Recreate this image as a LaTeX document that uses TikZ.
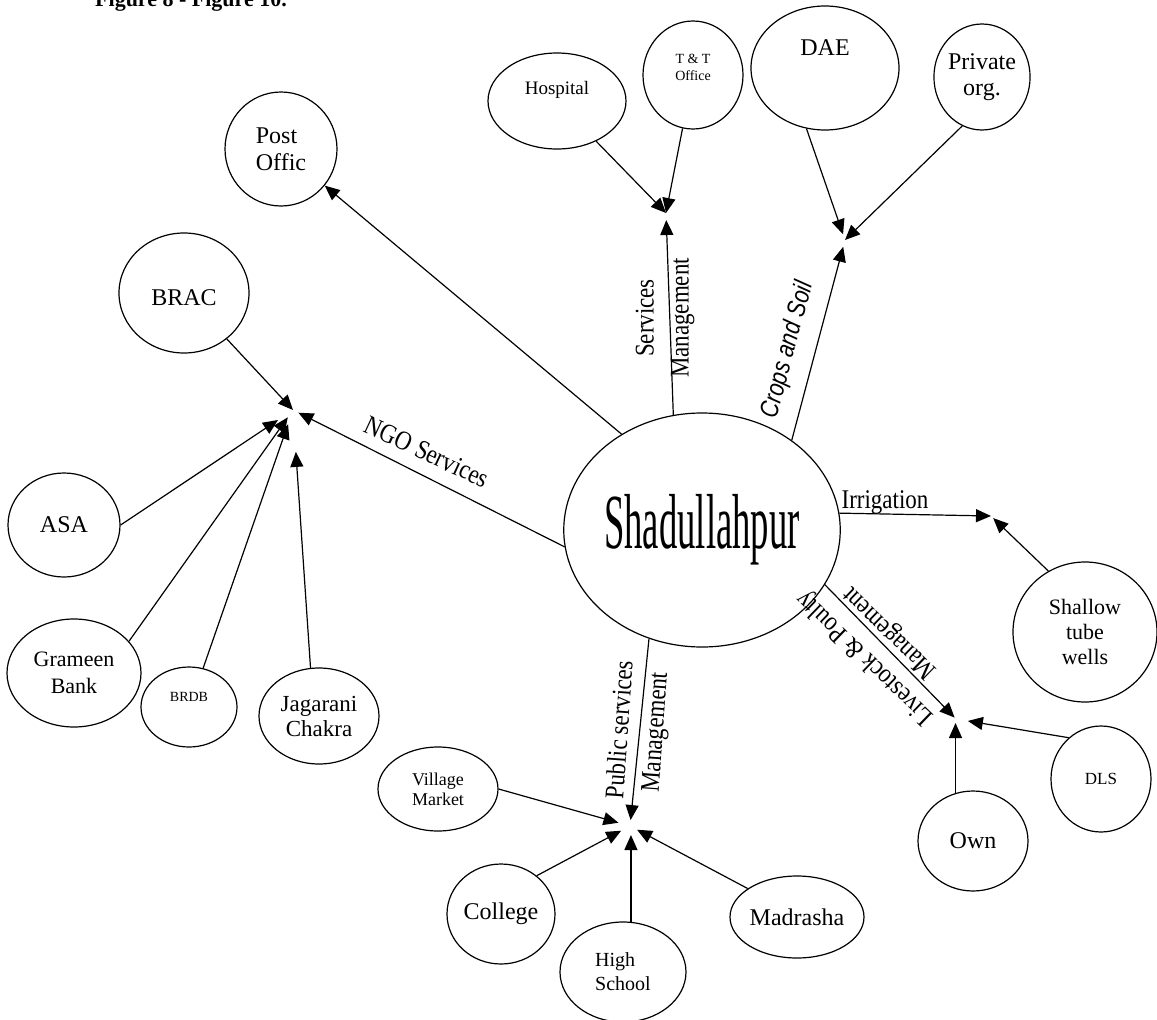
\documentclass[tikz,border=0pt]{standalone}
\usepackage{fontspec}
\setmainfont{Liberation Serif}
\newfontfamily\narrowserif[FakeStretch=0.85]{Liberation Serif}
\newfontfamily\hubfont[FakeStretch=0.47]{Liberation Serif}
\newfontfamily\narrowsans[FakeStretch=0.82]{Liberation Sans}
\usetikzlibrary{shapes,arrows.meta,positioning,calc}

\newcommand{\fsz}[2]{\fontsize{#1}{#2}\selectfont}

\begin{document}
\begin{tikzpicture}[x=1pt,y=-1pt,
  bub/.style={draw, ellipse, line width=1.2pt, inner sep=0pt, align=center},
  arr/.style={line width=1.2pt, -{Triangle[length=15pt,width=13pt]}},
  lbl/.style={font=\narrowserif\fsz{27}{35}, align=center, inner sep=0pt}]

\useasboundingbox (0,0) rectangle (1157,1020);
\node[anchor=base west, font=\bfseries\fsz{22}{26}, inner sep=0pt] (title) at (95,6) {Figure 8 - Figure 10.};

% village in the middle
\node[bub, minimum width=242pt, minimum height=234pt, font=\hubfont\fsz{78}{80}] (shad) at (702,530) {\raisebox{-22pt}{Shadullahpur}};

% outer circles
\node[bub, minimum width=112pt, minimum height=114pt, font=\fsz{24}{27}, align=left] (post) at (281,149) {Post\\Offic};
\node[bub, minimum width=130pt, minimum height=120pt, font=\fsz{24}{27}] (brac) at (184,293) {\raisebox{-26pt}{BRAC}};
\node[bub, minimum width=138pt, minimum height=96pt, font=\fsz{19}{22}] (hosp) at (557,101) {\raisebox{26pt}{Hospital}};
\node[bub, minimum width=100pt, minimum height=108pt, font=\fsz{14}{17}] (tnt) at (693,75) {\raisebox{26pt}{\begin{tabular}{@{}c@{}}T \& T\\Office\end{tabular}}};
\node[bub, minimum width=148pt, minimum height=124pt, font=\fsz{24}{27}] (dae) at (825,68) {\raisebox{40pt}{DAE}};
\node[bub, minimum width=92pt, minimum height=106pt, font=\fsz{24}{26}] (priv) at (982,77) {Private\\org.};
\node[bub, minimum width=144pt, minimum height=140pt, font=\fsz{22}{25}] (tube) at (1085,632) {Shallow\\tube\\wells};
\node[bub, minimum width=100pt, minimum height=106pt, font=\fsz{17}{20}] (dls) at (1101,779) {DLS};
\node[bub, minimum width=110pt, minimum height=100pt, font=\fsz{24}{27}] (own) at (973,841) {Own};
\node[bub, minimum width=112pt, minimum height=104pt, font=\fsz{24}{27}] (asa) at (64,525) {ASA};
\node[bub, minimum width=134pt, minimum height=108pt, font=\fsz{22}{27}] (grameen) at (74,673) {Grameen\\Bank};
\node[bub, minimum width=96pt, minimum height=80pt, font=\fsz{14}{17}] (brdb) at (189,707) {\raisebox{20pt}{BRDB}};
\node[bub, minimum width=120pt, minimum height=96pt, font=\fsz{23}{25}] (jagarani) at (319,716) {Jagarani\\Chakra};
\node[bub, minimum width=120pt, minimum height=84pt, font=\fsz{18}{20}] (market) at (438,789) {Village\\Market};
\node[bub, minimum width=108pt, minimum height=100pt, font=\fsz{24}{27}] (college) at (501,914) {College};
\node[bub, minimum width=126pt, minimum height=100pt, font=\fsz{20}{24}, align=left] (school) at (623,972) {High\\School};
\node[bub, minimum width=134pt, minimum height=82pt, font=\fsz{24}{27}] (madrasha) at (797,917) {Madrasha};

% meeting points of the arrows
\coordinate (ngo) at (293,410);
\coordinate (svc) at (666,213);
\coordinate (crop) at (845,240);
\coordinate (irr) at (991,516);
\coordinate (live) at (956,719);
\coordinate (pub) at (630,826);

% NGO side
\draw[arr] (shad.130) -- (post);
\draw[arr, shorten >=6pt] (shad.187) -- (ngo);
\draw[arr] (brac) -- (ngo);
\draw[arr, shorten >=18pt] (asa.east) -- (ngo);
\draw[arr, shorten >=9pt] (grameen.30) -- (ngo);
\draw[arr, shorten >=15pt] (brdb.70) -- (ngo);
\draw[arr, shorten >=42pt] (jagarani.100) -- (ngo);

% services and crops
\draw[arr] (hosp) -- (svc);
\draw[arr] (tnt) -- (svc);
\draw[arr, shorten >=7pt] (shad.104) -- (svc);
\draw[arr, shorten >=6pt] (dae.253) -- (crop);
\draw[arr] (priv.248) -- (crop);
\draw[arr, shorten >=7pt] (shad.45) -- (crop);

% irrigation and livestock
\draw[arr] (shad.7) -- (irr);
\draw[arr, shorten >=3pt] (tube.121) -- (irr);
\draw[arr, shorten >=2pt] (shad.-24) -- (live);
\draw[arr, shorten >=12pt] (dls.128) -- (live);
\draw[arr, shorten >=4pt] (own.110) -- (own.110 |- live);

% public services
\draw[arr, shorten >=6pt] (shad.244) -- (pub);
\draw[arr, shorten >=12pt] (market.east) -- (pub);
\draw[arr, shorten >=10pt] (college.47) -- (pub);
\draw[arr, shorten >=9pt] (school.81) -- (school.81 |- pub);
\draw[arr, shorten >=8pt] (madrasha.150) -- (pub);

% line labels
\node[lbl, rotate=90] (svclbl) at (665,318) {Services\\Management};
\node[lbl, rotate=86] (publbl) at (639,731) {Public services\\Management};
\node[lbl, rotate=136] (livelbl) at (878,645) {Livestock \& Poulty\\Management};
\node[lbl, rotate=-25] (ngolbl) at (427,452) {NGO Services};
\node[lbl] (irrlbl) at (885,502) {Irrigation};
\node[lbl, font=\narrowsans\itshape\fsz{26}{30}, rotate=75] (croplbl) at (788,350) {Crops and Soil};
\end{tikzpicture}
\end{document}
